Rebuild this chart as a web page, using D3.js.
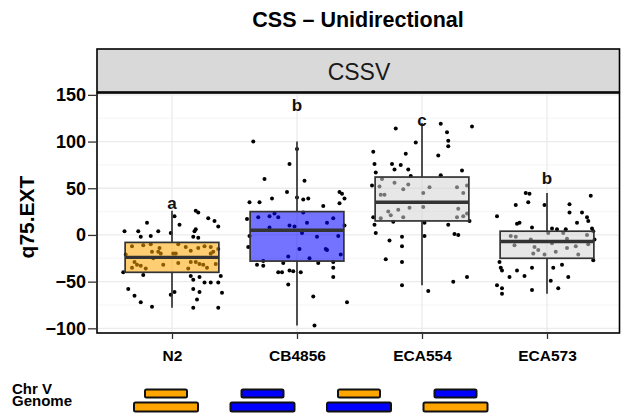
<!DOCTYPE html>
<html><head><meta charset="utf-8">
<script src="https://cdn.jsdelivr.net/npm/d3@7"></script>
<style>body{margin:0;background:#fff}svg{display:block;font-family:"Liberation Sans",Arial,Helvetica,sans-serif}</style>
</head><body><svg id="c" width="621" height="415"></svg>
<script>
const title = "CSS \u2013 Unidirectional";
const facet = "CSSV";
const yLabel = "q75.EXT";
const strains = ["N2", "CB4856", "ECA554", "ECA573"];
const boxFill = ["#FFA500", "#0000FF", "#D3D3D3", "#D3D3D3"];
const whiskerLo = [-78, -97, -54, -63];
const q1 = [-40, -28, 15, -25];
const medians = [-24, 5, 35, -7];
const q3 = [-8, 25, 62, 4];
const whiskerHi = [26, 100, 120, 45];
const sigLetters = ["a", "b", "c", "b"];
const letterY = [34, 139, 123, 61];
const yTicks = [-100, -50, 0, 50, 100, 150];
const chrV = ["N2", "CB4856", "N2", "CB4856"];
const genome = ["N2", "CB4856", "CB4856", "N2"];
const parentColor = {N2: "#FFA500", CB4856: "#0000FF"};
// [jitter (category units), value]
const n2Points = [[0.02,20],[0.06,11],[0.19,26],[0.21,24],[0.29,18],[0.34,15],[0.37,9],[-0.20,13],[-0.38,4],[-0.27,4],[-0.25,-2],[-0.17,-1],[-0.11,4],[-0.01,2],[0.18,4],[0.19,6],[0.17,-2],[0.21,-3],
[-0.32,-12],[-0.23,-11],[-0.17,-10],[-0.16,-18],[-0.11,-18],[-0.10,-14],[-0.09,-20],[0.01,-20],[0.03,-20],[0.05,-10],[0.11,-13],[0.15,-17],[0.21,-14],[0.26,-12],[0.31,-13],[0.33,-18],[0.37,-15],[-0.30,-29],[-0.28,-32],[-0.32,-35],[-0.25,-33],[-0.21,-36],[-0.07,-32],[0.05,-30],[0.13,-36],[0.15,-29],[0.22,-31],[0.25,-32],[0.28,-35],[0.35,-31],[0.19,-29],[-0.37,-21],[-0.15,-25],[0.31,-20],
[-0.39,-40],[-0.23,-43],[0.15,-44],[0.17,-48],[0.22,-45],[0.26,-51],[0.31,-51],[0.37,-51],[0.39,-44],[-0.35,-58],[-0.30,-65],[-0.25,-72],[-0.16,-77],[-0.01,-64],[0.02,-61],[0.17,-58],[0.22,-61],[0.20,-69],[0.17,-78],[0.37,-78],[0.40,-62]];
const cb4856Points = [[-0.35,100],[0.00,92],[-0.06,76],[-0.26,60],[0.06,58],[-0.08,46],[-0.38,35],[-0.30,35],[-0.20,39],[0.00,40],[0.05,38],[0.09,39],[0.21,31],[0.34,46],[0.36,44],[0.38,39],[0.34,34],[-0.40,17],[-0.31,19],[-0.22,20],[-0.18,23],[-0.15,19],[0.05,24],[0.08,13],[0.24,13],[0.29,18],[-0.06,10],[-0.02,9],[-0.22,8],[0.38,10],
[-0.38,-1],[-0.39,-13],[0.04,2],[0.16,-2],[0.33,-1],[0.02,-15],[0.23,-15],[0.35,-21],[-0.07,-23],[0.10,-25],[-0.27,-28],[-0.32,-32],[-0.27,-33],[-0.11,-30],[0.17,-30],[0.29,-29],[0.29,-35],[-0.15,-40],[-0.12,-40],[-0.06,-38],[-0.03,-39],[0.03,-40],[0.29,-45],[-0.07,-53],[0.13,-66],[0.40,-72],[0.14,-97],[0.24,-16]];
const eca554Points = [[-0.21,114],[0.15,119],[0.40,116],[0.20,110],[0.21,101],[0.21,95],[-0.05,99],[-0.39,89],[-0.13,87],[0.13,85],[-0.38,76],[-0.24,76],[-0.17,75],[-0.22,70],[-0.11,70],[-0.37,67],[0.32,69],[0.15,64],[-0.40,53],[-0.32,60],[-0.34,52],[-0.22,56],[-0.15,49],[-0.11,54],[-0.09,63],[0.01,45],[0.06,51],[0.28,51],[0.33,45],[0.36,53],[-0.33,43],[-0.30,43],
[-0.27,25],[-0.25,21],[-0.19,27],[-0.15,19],[-0.10,29],[0.01,30],[0.29,28],[0.28,19],[0.33,20],[0.36,23],[-0.39,19],[-0.33,18],[-0.38,11],[-0.23,14],[0.02,13],[0.21,11],[0.38,15],[-0.37,2],[-0.16,-2],[0.02,-1],[0.26,1],[0.29,0],[-0.26,-6],[-0.16,-12],[-0.29,-26],[-0.16,-29],[0.25,-50],[0.36,-45],[-0.16,-54],[0.05,-60]];
const eca573Points = [[-0.17,45],[-0.14,44],[-0.15,35],[-0.25,32],[-0.02,32],[0.35,42],[0.18,33],[0.18,24],[0.28,24],[-0.40,20],[0.32,19],[0.33,15],[-0.24,12],[-0.22,13],[-0.12,8],[0.04,7],[0.08,6],[0.15,6],[0.24,13],[0.36,7],
[-0.29,-1],[-0.25,-2],[-0.26,-11],[-0.13,-5],[-0.10,-13],[-0.07,-16],[-0.11,-20],[0.01,2],[0.04,-9],[0.07,-18],[0.13,2],[0.16,-4],[0.16,-14],[0.23,-12],[0.25,-21],[0.32,0],[0.33,-10],[-0.02,-21],[0.37,4],[0.38,-5],
[-0.38,-29],[-0.37,-35],[-0.36,-38],[-0.24,-38],[-0.30,-45],[-0.18,-44],[-0.12,-35],[0.05,-35],[0.12,-32],[0.17,-45],[0.37,-27],[-0.40,-54],[-0.36,-57],[-0.36,-63],[-0.12,-59],[0.03,-49],[0.09,-57]];
const allPoints = [n2Points, cb4856Points, eca554Points, eca573Points];

const svg = d3.select("#c");
const P = {left: 97, right: 619.5, top: 93, bottom: 333, scaleRight: 622};
const x = d3.scaleLinear().domain([-0.6, strains.length - 1 + 0.6]).range([P.left, P.scaleRight]);
const y = d3.scaleLinear().domain([-105, 152]).range([P.bottom, P.top]);
const unit = x(1) - x(0);

// title
svg.append("text").attr("x", 358).attr("y", 27).attr("text-anchor", "middle")
  .attr("font-size", 21.5).attr("font-weight", "bold").text(title);

// strip
svg.append("rect").attr("x", P.left).attr("y", 49).attr("width", P.right - P.left).attr("height", 43)
  .attr("fill", "#D9D9D9").attr("stroke", "#000").attr("stroke-width", 1.6);
svg.append("text").attr("x", 359).attr("y", 80).attr("text-anchor", "middle")
  .attr("font-size", 23).attr("fill", "#1a1a1a").text(facet);

// panel
const panel = svg.append("g");
panel.append("rect").attr("x", P.left).attr("y", P.top).attr("width", P.right - P.left).attr("height", P.bottom - P.top).attr("fill", "#fff");
const minor = d3.range(-75, 151, 50);
panel.selectAll(".gmin").data(minor).enter().append("line")
  .attr("x1", P.left).attr("x2", P.right).attr("y1", d => y(d)).attr("y2", d => y(d))
  .attr("stroke", "#F2F2F2").attr("stroke-width", 0.8);
panel.selectAll(".gmaj").data(yTicks).enter().append("line")
  .attr("x1", P.left).attr("x2", P.right).attr("y1", d => y(d)).attr("y2", d => y(d))
  .attr("stroke", "#EBEBEB").attr("stroke-width", 1.3);
panel.selectAll(".gv").data(strains).enter().append("line")
  .attr("x1", (d, i) => x(i)).attr("x2", (d, i) => x(i)).attr("y1", P.top).attr("y2", P.bottom)
  .attr("stroke", "#EBEBEB").attr("stroke-width", 1.3);

// points
allPoints.forEach((pts, i) => {
  panel.selectAll(".p" + i).data(pts).enter().append("circle")
    .attr("cx", d => x(i + d[0])).attr("cy", d => y(d[1])).attr("r", 2).attr("fill", "#000");
});

// boxes
const bw = 0.75 * unit;
const boxCol = "#333333";
strains.forEach((s, i) => {
  const cx = x(i);
  const g = panel.append("g");
  g.append("line").attr("x1", cx).attr("x2", cx).attr("y1", y(whiskerHi[i])).attr("y2", y(q3[i]))
    .attr("stroke", boxCol).attr("stroke-width", 1.7);
  g.append("line").attr("x1", cx).attr("x2", cx).attr("y1", y(q1[i])).attr("y2", y(whiskerLo[i]))
    .attr("stroke", boxCol).attr("stroke-width", 1.7);
  g.append("rect").attr("x", cx - bw / 2).attr("y", y(q3[i])).attr("width", bw).attr("height", y(q1[i]) - y(q3[i]))
    .attr("fill", boxFill[i]).attr("fill-opacity", 0.55).attr("stroke", boxCol).attr("stroke-width", 1.7);
  g.append("line").attr("x1", cx - bw / 2).attr("x2", cx + bw / 2).attr("y1", y(medians[i])).attr("y2", y(medians[i]))
    .attr("stroke", boxCol).attr("stroke-width", 3.4);
  g.append("text").attr("x", cx).attr("y", y(letterY[i])).attr("dy", "0.36em").attr("text-anchor", "middle")
    .attr("font-size", 17).attr("font-weight", "bold").attr("fill", "#111").text(sigLetters[i]);
});

panel.append("rect").attr("x", P.left).attr("y", P.top).attr("width", P.right - P.left).attr("height", P.bottom - P.top)
  .attr("fill", "none").attr("stroke", "#000").attr("stroke-width", 1.6);

// y axis
const yAxis = svg.append("g").attr("transform", `translate(${P.left - 1},0)`)
  .call(d3.axisLeft(y).tickValues(yTicks).tickSize(8).tickPadding(2).tickFormat(d => d < 0 ? "\u2212" + Math.abs(d) : d));
yAxis.select(".domain").remove();
yAxis.selectAll("line").attr("stroke", "#333").attr("stroke-width", 1.3);
yAxis.selectAll("text").attr("font-size", 18).attr("font-weight", "bold").attr("fill", "#000")
  .attr("font-family", "Liberation Sans, Arial, sans-serif");

svg.append("text").attr("transform", "translate(34,217) rotate(-90)").attr("text-anchor", "middle")
  .attr("font-size", 21).attr("font-weight", "bold").text(yLabel);

// x axis
const xAxis = svg.append("g").attr("transform", `translate(0,${P.bottom + 1})`)
  .call(d3.axisBottom(x).tickValues(d3.range(strains.length)).tickSize(5).tickPadding(11).tickFormat(i => strains[i]));
xAxis.select(".domain").remove();
xAxis.selectAll("line").attr("stroke", "#333").attr("stroke-width", 1.3);
xAxis.selectAll("text").attr("font-size", 15.5).attr("font-weight", "bold").attr("fill", "#000")
  .attr("font-family", "Liberation Sans, Arial, sans-serif");

// genome glyphs
svg.append("text").attr("x", 12).attr("y", 394).attr("font-size", 15).attr("font-weight", "bold").text("Chr V");
svg.append("text").attr("x", 12).attr("y", 406).attr("font-size", 15).attr("font-weight", "bold").text("Genome");
const gx = d3.scalePoint().domain(strains).range([166, 455.5]);
strains.forEach((s, i) => {
  const cx = gx(s);
  svg.append("rect").attr("x", cx - 21).attr("y", 389.5).attr("width", 42).attr("height", 8).attr("rx", 1.5)
    .attr("fill", parentColor[chrV[i]]).attr("stroke", "#111").attr("stroke-width", 2);
  svg.append("rect").attr("x", cx - 32).attr("y", 402.5).attr("width", 64).attr("height", 9).attr("rx", 1.5)
    .attr("fill", parentColor[genome[i]]).attr("stroke", "#111").attr("stroke-width", 2);
});
</script></body></html>
